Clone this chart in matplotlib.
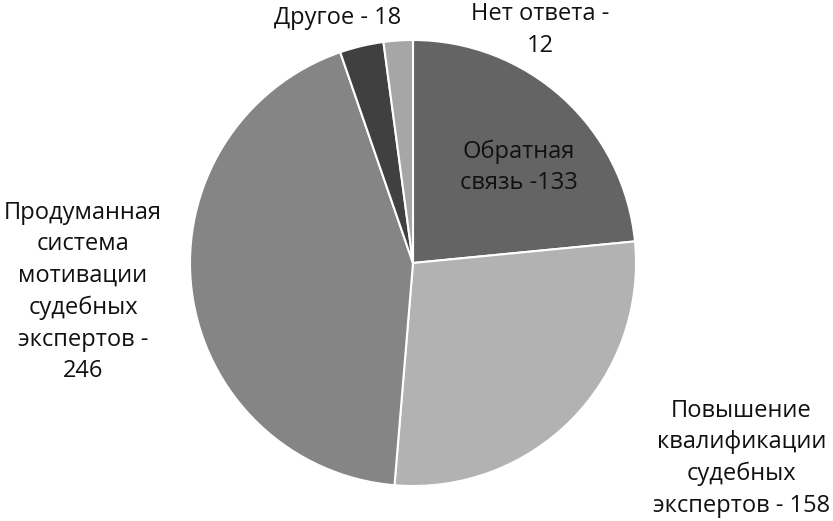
import matplotlib
matplotlib.use("Agg")
import matplotlib.pyplot as plt

# answers and counts, clockwise from the top
labels = ["Обратная\nсвязь -133",
          "Повышение\nквалификации\nсудебных\nэкспертов - 158",
          "Продуманная\nсистема\nмотивации\nсудебных\nэкспертов -\n246",
          "Другое - 18",
          "Нет ответа -\n12"]
values = [133, 158, 246, 18, 12]
colors = ["#646464", "#b2b2b2", "#858585", "#404040", "#a6a6a6"]

# where each label sits (pie radius = 1) and how it is anchored
label_pos = [(0.475, 0.43), (1.87, -0.875), (-1.48, -0.13), (-0.34, 1.10), (0.57, 1.045)]
label_ha = ["center", "right", "center", "center", "center"]

plt.rcParams['font.family'] = ['Open Sans', 'DejaVu Sans']

fig = plt.figure(figsize=(8.33, 5.21), dpi=100)
ax = fig.add_axes([190 / 833, 35 / 521, 446 / 833, 446 / 521])
ax.pie(values, colors=colors, startangle=90, counterclock=False,
       wedgeprops=dict(edgecolor="white", linewidth=1.5))
ax.set_xlim(-1, 1)
ax.set_ylim(-1, 1)
ax.set_aspect("equal")

for text, (x, y), ha in zip(labels, label_pos, label_ha):
    ax.text(x, y, text, ha=ha, va="center", multialignment="center",
            fontsize=17, color="#111111", linespacing=1.42)

fig.savefig("out.png", dpi=100)
